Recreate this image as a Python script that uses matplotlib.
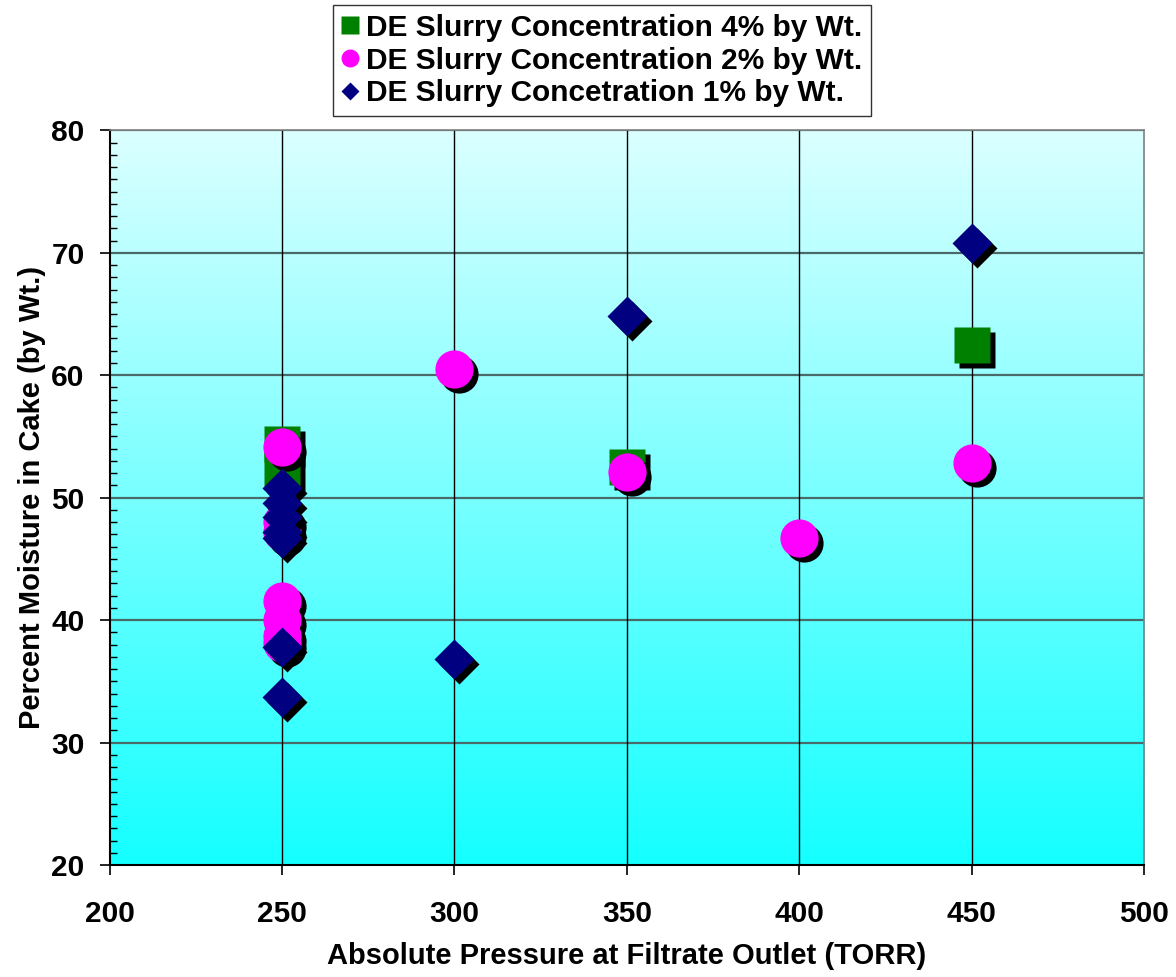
import numpy as np
import matplotlib
matplotlib.use("Agg")
import matplotlib.pyplot as plt
from matplotlib.transforms import offset_copy
from matplotlib.ticker import MultipleLocator

plt.rcParams['font.family'] = ['Liberation Sans', 'DejaVu Sans']
plt.rcParams['font.weight'] = 'bold'

# data
x_4pct = [250, 250, 350, 450]
y_4pct = [54.4, 52.4, 52.5, 62.5]

x_2pct = [250, 250, 250, 250, 250, 250, 250, 300, 350, 400, 450]
y_2pct = [54.1, 48.0, 47.2, 41.6, 40.0, 38.7, 38.1, 60.5, 52.1, 46.7, 52.8]

x_1pct = [250, 250, 250, 250, 250, 250, 250, 300, 350, 450]
y_1pct = [50.8, 49.6, 48.4, 47.2, 46.7, 37.8, 33.7, 36.8, 64.8, 70.8]

labels = ["DE Slurry Concentration 4% by Wt.",
          "DE Slurry Concentration 2% by Wt.",
          "DE Slurry Concetration 1% by Wt."]

fig = plt.figure(figsize=(11.76, 9.77), dpi=100)
ax = fig.add_axes([0.0933, 0.1146, 0.8795, 0.7520])

# gradient plot area, light cyan on top to cyan at bottom
grad = np.linspace(0, 1, 256).reshape(-1, 1)
top = np.array([0.86, 1.0, 1.0])
bot = np.array([0.08, 1.0, 1.0])
img = top * (1 - grad[:, :, None]) + bot * grad[:, :, None]
ax.imshow(img, extent=[0, 1, 0, 1], transform=ax.transAxes, aspect='auto', zorder=0)

ax.set_xlim(200, 500)
ax.set_ylim(20, 80)

for yv in range(30, 81, 10):
    ax.axhline(yv, color='#4a6a6a', lw=1.6, zorder=1)
for xv in range(250, 500, 50):
    ax.axvline(xv, color='black', lw=1.0, zorder=1)

shadow = offset_copy(ax.transData, fig=fig, x=5, y=-5, units='dots')

series = [
    (x_4pct, y_4pct, 's', 26.5, '#008000'),
    (x_2pct, y_2pct, 'o', 27.5, '#FF00FF'),
    (x_1pct, y_1pct, 'D', 20.0, '#000080'),
]
handles = []
z = 3
for (xs, ys, mk, ms, col), lab in zip(series, labels):
    ax.plot(xs, ys, ls='none', marker=mk, ms=ms, color='black',
            mec='none', transform=shadow, zorder=z)
    ax.plot(xs, ys, ls='none', marker=mk, ms=ms, color=col,
            mec='none', zorder=z + 1)
    h, = ax.plot([], [], ls='none', marker=mk, ms=ms * 0.47, color=col,
                 mec='none', label=lab)
    handles.append(h)
    z += 2

ax.xaxis.set_major_locator(MultipleLocator(50))
ax.yaxis.set_major_locator(MultipleLocator(10))
ax.yaxis.set_minor_locator(MultipleLocator(1))
ax.tick_params(axis='both', which='major', direction='out', length=7, width=1.2,
               labelsize=21.5)
ax.tick_params(axis='x', which='major', pad=18)
ax.tick_params(axis='y', which='major', pad=11)
ax.tick_params(axis='y', which='minor', direction='in', length=5, width=1.0)
for lab in ax.get_xticklabels() + ax.get_yticklabels():
    lab.set_fontweight('bold')

for s in ['left', 'bottom']:
    ax.spines[s].set_color('black')
    ax.spines[s].set_linewidth(1.5)
for s in ['top', 'right']:
    ax.spines[s].set_color('#808080')
    ax.spines[s].set_linewidth(1.2)

ax.set_xlabel("Absolute Pressure at Filtrate Outlet (TORR)", fontsize=21,
              fontweight='bold', labelpad=10)
ax.set_ylabel("Percent Moisture in Cake (by Wt.)", fontsize=21,
              fontweight='bold', labelpad=4)

leg = fig.legend(handles=handles, loc='upper center', bbox_to_anchor=(0.512, 0.995),
                 fontsize=21.5, frameon=True, fancybox=False, handlelength=0.5,
                 handletextpad=0.3, borderpad=0.3, labelspacing=0.16,
                 borderaxespad=0)
leg.get_frame().set_edgecolor('black')
leg.get_frame().set_linewidth(1.0)
for t in leg.get_texts():
    t.set_fontweight('bold')

fig.savefig("out.png", dpi=100)
